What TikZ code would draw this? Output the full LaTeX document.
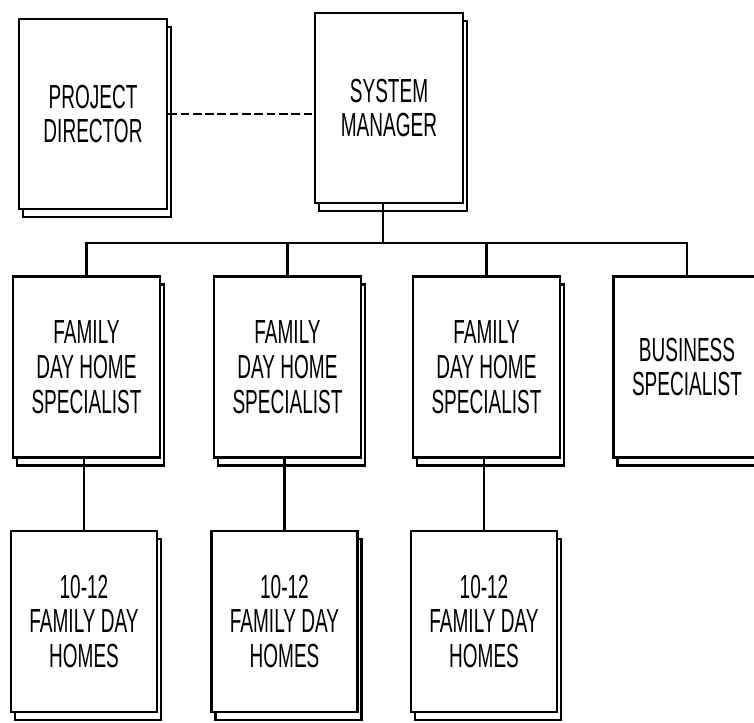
\documentclass[tikz,border=0pt]{standalone}
\usepackage{fontspec}
\setmainfont[FakeStretch=0.57]{Liberation Sans}
\usetikzlibrary{shadows}

\tikzset{
    orgbox/.style={draw, fill=white, line width=1.4pt, inner sep=0pt, align=center,
        font=\fontsize{19}{19.9}\selectfont,
        general shadow={shadow xshift=0.08cm, shadow yshift=-0.16cm,
                        draw=black, fill=white, line width=1.4pt}},
    topbox/.style={orgbox, minimum width=2.96cm, minimum height=3.8cm},
    staffbox/.style={orgbox, minimum width=2.94cm, minimum height=3.62cm},
    homebox/.style={orgbox, minimum width=2.92cm, minimum height=3.62cm},
    link/.style={line width=1.3pt}
}

\begin{document}
\begin{tikzpicture}[x=0.02cm, y=-0.02cm]
    \clip (0, 0) rectangle (754, 723);
    \fill[white] (0, 0) rectangle (754, 723);

    % Top level
    \node[topbox] (director) at (93, 114) {PROJECT\\DIRECTOR};
    \node[topbox] (manager) at (389, 108) {SYSTEM\\MANAGER};

    % Specialists
    \node[staffbox] (spec1) at (86.5, 367) {FAMILY\\DAY HOME\\SPECIALIST};
    \node[staffbox] (spec2) at (287.5, 367) {FAMILY\\DAY HOME\\SPECIALIST};
    \node[staffbox] (spec3) at (486.5, 367) {FAMILY\\DAY HOME\\SPECIALIST};
    \node[staffbox] (business) at (687, 367) {BUSINESS\\SPECIALIST};

    % Family day homes
    \node[homebox] (homes1) at (84, 621.5) {10-12\\FAMILY DAY\\HOMES};
    \node[homebox] (homes2) at (284.5, 621.5) {10-12\\FAMILY DAY\\HOMES};
    \node[homebox] (homes3) at (484, 621.5) {10-12\\FAMILY DAY\\HOMES};

    % Connectors
    \draw[link, dash pattern=on 5pt off 2pt] (director.east) -- (director.east -| manager.west);
    \coordinate (bus) at (0, 243);
    \draw[link] ([xshift=-0.12cm]manager.south) -- ([xshift=-0.12cm]manager.south |- bus);
    \draw[link] (spec1.north) -- (spec1.north |- bus) -- (business.north |- bus) -- (business.north);
    \foreach \n in {spec2, spec3} {
        \draw[link] (\n.north) -- (\n.north |- bus);
    }
    \foreach \i in {1, 2, 3} {
        \draw[link] (homes\i.north) -- (homes\i.north |- spec\i.south);
    }
\end{tikzpicture}
\end{document}
